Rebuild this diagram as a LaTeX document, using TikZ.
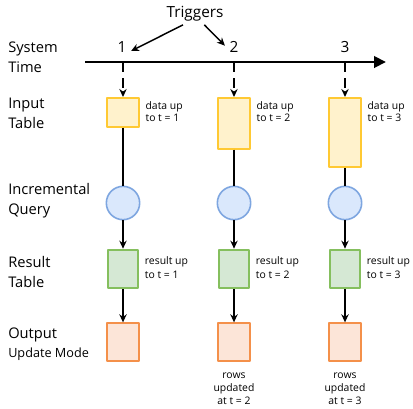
\documentclass[tikz,border=0pt]{standalone}
\usepackage{fontspec}
\setmainfont{Open Sans}
\usetikzlibrary{arrows.meta,positioning}
\definecolor{inFill}{HTML}{FFF2CC}
\definecolor{inDraw}{HTML}{FFC933}
\definecolor{qFill}{HTML}{DAE8FC}
\definecolor{qDraw}{HTML}{7EA6E0}
\definecolor{resFill}{HTML}{D5E8D4}
\definecolor{resDraw}{HTML}{85BF5E}
\definecolor{outFill}{HTML}{FCE5D8}
\definecolor{outDraw}{HTML}{F4904A}

\begin{document}
\begin{tikzpicture}[x=0.75pt,y=-0.75pt,line join=round,
	rowlabel/.style={font=\fontsize{11}{15}\selectfont,align=left,anchor=west,inner sep=0pt},
	note/.style={font=\fontsize{7.8}{9.5}\selectfont,align=left,anchor=north west,inner sep=1pt},
	inbox/.style={draw=inDraw,fill=inFill,line width=1.5pt,minimum width=24pt,anchor=north,inner sep=0pt},
	query/.style={circle,draw=qDraw,fill=qFill,line width=1.2pt,minimum size=25pt,inner sep=0pt},
	resbox/.style={draw=resDraw,fill=resFill,line width=1.5pt,minimum width=23pt,minimum height=29pt,inner sep=0pt},
	outbox/.style={draw=outDraw,fill=outFill,line width=1.5pt,minimum width=24pt,minimum height=28pt,inner sep=0pt},
	flow/.style={line width=1.1pt,-{Stealth[length=6pt,width=5.5pt]}},
	tick/.style={flow,dash pattern=on 7pt off 4.5pt}]
	\useasboundingbox (0,0) rectangle (413,408);
	% row labels
	\node[rowlabel] (lsys) at (8,57) {System\\Time};
	\node[rowlabel] (lin) at (8,113) {Input\\Table};
	\node[rowlabel] (lq) at (8,201) {Incremental\\Query};
	\node[rowlabel] (lres) at (8,272) {Result\\Table};
	\node[rowlabel] (lout) at (8,335) {Output};
	\node[rowlabel,font=\fontsize{9.5}{11}\selectfont] (lmode) at (8,354) {Update Mode};
	% time axis
	\coordinate (tstart) at (85,62);
	\coordinate (tend) at (386,62);
	\draw [line width=2.2pt,-{Triangle[length=9pt,width=8.5pt]}] (tstart) -- (tend);
	\node[font=\fontsize{11.5}{14}\selectfont] (n1) at (122,47) {1};
	\node[font=\fontsize{11.5}{14}\selectfont] (n2) at (234,47) {2};
	\node[font=\fontsize{11.5}{14}\selectfont] (n3) at (345,47) {3};
	\node[font=\fontsize{11.5}{14}\selectfont] (trig) at (195,14) {Triggers};
	\draw [flow] ([xshift=-9pt,yshift=1pt]trig.south) -- ([yshift=-3pt]n1.east);
	\draw [flow] ([xshift=7pt,yshift=1pt]trig.south) -- ([yshift=1pt]n2.west);
	\coordinate (t1) at (123,63);
	\coordinate (t2) at (234,63);
	\coordinate (t3) at (345,63);
	% input tables
	\node[inbox,minimum height=21.5pt] (in1) at (123,97) {};
	\node[inbox,minimum height=38pt] (in2) at (234,97) {};
	\node[inbox,minimum height=52pt] (in3) at (345,97) {};
	\draw [tick] (t1) -- (in1);
	\draw [tick] (t2) -- (in2);
	\draw [tick] (t3) -- (in3);
	\node[note] (d1) at ([xshift=3pt,yshift=-2pt]in1.north east) {data up\\to t = 1};
	\node[note] (d2) at ([xshift=3pt,yshift=-2pt]in2.north east) {data up\\to t = 2};
	\node[note] (d3) at ([xshift=3pt,yshift=-2pt]in3.north east) {data up\\to t = 3};
	% queries
	\node[query] (q1) at (123,203) {};
	\node[query] (q2) at (234,203) {};
	\node[query] (q3) at (345,203) {};
	\draw [line width=1.1pt] (in1) -- (q1);
	\draw [line width=1.1pt] (in2) -- (q2);
	\draw [line width=1.1pt] (in3) -- (q3);
	% result tables
	\node[resbox] (r1) at (123,269) {};
	\node[resbox] (r2) at (234,269) {};
	\node[resbox] (r3) at (345,269) {};
	\draw [flow] (q1) -- (r1);
	\draw [flow] (q2) -- (r2);
	\draw [flow] (q3) -- (r3);
	\node[note,font=\fontsize{7.8}{10.5}\selectfont] (s1) at ([xshift=3pt,yshift=-5pt]r1.north east) {result up\\to t = 1};
	\node[note,font=\fontsize{7.8}{10.5}\selectfont] (s2) at ([xshift=3pt,yshift=-5pt]r2.north east) {result up\\to t = 2};
	\node[note,font=\fontsize{7.8}{10.5}\selectfont] (s3) at ([xshift=3pt,yshift=-5pt]r3.north east) {result up\\to t = 3};
	% output
	\node[outbox] (o1) at (123,342) {};
	\node[outbox] (o2) at (234,342) {};
	\node[outbox] (o3) at (345,342) {};
	\draw [flow] (r1) -- (o1);
	\draw [flow] (r2) -- (o2);
	\draw [flow] (r3) -- (o3);
	\node[note,align=center,anchor=north] (u2) at ([yshift=-7.5pt]o2.south) {rows\\updated\\at t = 2};
	\node[note,align=center,anchor=north] (u3) at ([yshift=-7.5pt]o3.south) {rows\\updated\\at t = 3};
\end{tikzpicture}
\end{document}
